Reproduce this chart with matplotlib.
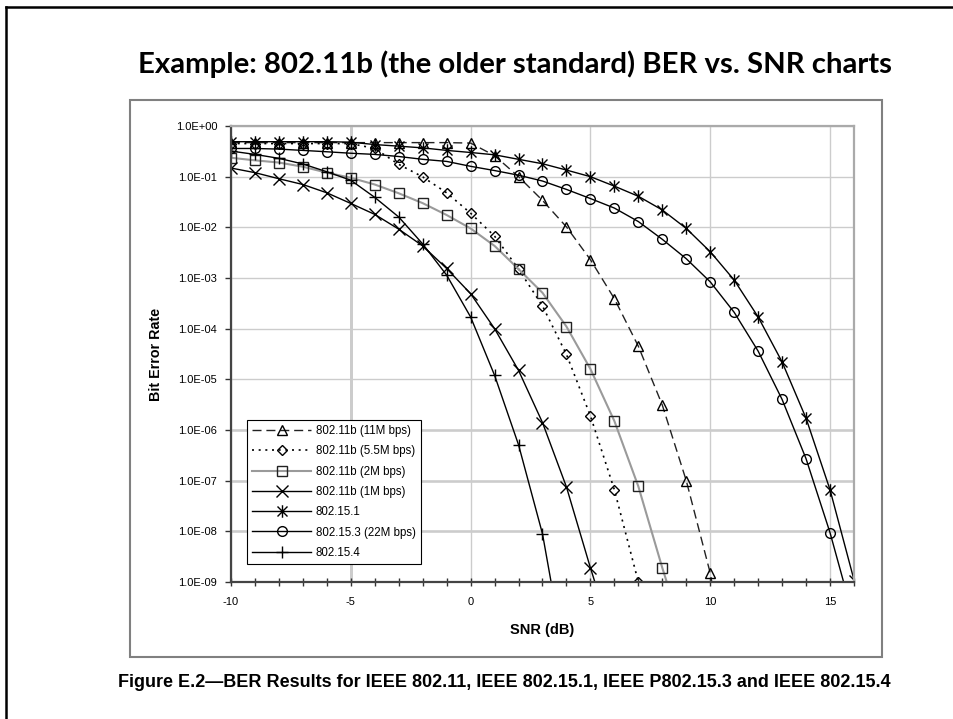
import numpy as np
import matplotlib
matplotlib.use("Agg")
import matplotlib.pyplot as plt
from matplotlib.path import Path
from matplotlib.patches import Rectangle
from matplotlib.lines import Line2D

# ---------------- data ----------------
snr_11m = list(range(-10, 12))
ber_11m = [0.47, 0.47, 0.47, 0.47, 0.47, 0.47, 0.47, 0.47, 0.47, 0.47, 0.46,
           0.26, 0.10, 0.034, 0.0102, 0.0023, 3.9e-4, 4.5e-5, 3.1e-6, 1.0e-7, 1.5e-9, 3e-12]

snr_55m = list(range(-10, 9))
ber_55m = [0.45, 0.45, 0.45, 0.45, 0.45, 0.45, 0.36, 0.175, 0.099, 0.048, 0.019,
           0.0067, 0.0015, 2.8e-4, 3.1e-5, 1.9e-6, 6.6e-8, 1.0e-9, 2e-11]

snr_2m = list(range(-10, 10))
ber_2m = [0.236, 0.21, 0.19, 0.157, 0.12, 0.095, 0.07, 0.047, 0.03, 0.0175, 0.0095,
          0.0043, 0.0015, 5.1e-4, 1.1e-4, 1.6e-5, 1.5e-6, 7.7e-8, 1.9e-9, 6e-11]

snr_1m = list(range(-10, 7))
ber_1m = [0.148, 0.12, 0.091, 0.07, 0.048, 0.0296, 0.018, 0.0092, 0.0043, 0.00154,
          4.9e-4, 1.0e-4, 1.5e-5, 1.4e-6, 7.5e-8, 1.9e-9, 6e-11]

snr_151 = list(range(-10, 17))
ber_151 = [0.49, 0.49, 0.49, 0.49, 0.49, 0.48, 0.43, 0.40, 0.37, 0.33, 0.30, 0.27,
           0.22, 0.18, 0.135, 0.10, 0.065, 0.041, 0.022, 0.0095, 0.0033, 9.1e-4,
           1.7e-4, 2.2e-5, 1.7e-6, 6.6e-8, 1.1e-9]

snr_153 = list(range(-10, 17))
ber_153 = [0.36, 0.36, 0.35, 0.33, 0.31, 0.29, 0.275, 0.25, 0.22, 0.20, 0.16, 0.132,
           0.107, 0.082, 0.056, 0.037, 0.024, 0.013, 0.0058, 0.0024, 8.4e-4, 2.1e-4,
           3.6e-5, 4.0e-6, 2.7e-7, 9.4e-9, 1.8e-10]

snr_154 = list(range(-10, 5))
ber_154 = [0.32, 0.275, 0.23, 0.178, 0.125, 0.085, 0.039, 0.016, 0.0047, 0.00114,
           1.7e-4, 1.2e-5, 5.1e-7, 8.9e-9, 2e-11]

labels = ["802.11b (11M bps)", "802.11b (5.5M bps)", "802.11b (2M bps)",
          "802.11b (1M bps)", "802.15.1", "802.15.3 (22M bps)", "802.15.4"]

y_ticks = [1e0, 1e-1, 1e-2, 1e-3, 1e-4, 1e-5, 1e-6, 1e-7, 1e-8, 1e-9]
y_ticklabels = ["1.0E+00", "1.0E-01", "1.0E-02", "1.0E-03", "1.0E-04",
                "1.0E-05", "1.0E-06", "1.0E-07", "1.0E-08", "1.0E-09"]
x_ticks = [-10, -5, 0, 5, 10, 15]

title = "Example: 802.11b (the older standard) BER vs. SNR charts"
caption = "Figure E.2\u2014BER Results for IEEE 802.11, IEEE 802.15.1, IEEE P802.15.3 and IEEE 802.15.4"

# ---------------- figure ----------------
W, H = 954, 719
fig = plt.figure(figsize=(W / 100, H / 100), dpi=100)
fig.patch.set_facecolor("white")

# slide border (left and top)
fig.add_artist(Line2D([6.5 / W, 6.5 / W], [0, 1 - 7 / H], color="black", lw=1.8,
                      transform=fig.transFigure))
fig.add_artist(Line2D([6.5 / W, 1], [1 - 7 / H, 1 - 7 / H], color="black", lw=1.8,
                      transform=fig.transFigure))

# chart frame
fig.add_artist(Rectangle((130 / W, 1 - 657 / H), (882 - 130) / W, (657 - 100) / H,
                         transform=fig.transFigure, fill=False,
                         edgecolor="#808080", lw=1.5))

fig.text(515 / W, 1 - 73 / H, title, ha="center", va="baseline",
         fontsize=21.2, fontweight="bold", family=["Lato", "DejaVu Sans"])
fig.text(504.5 / W, 1 - 687 / H, caption, ha="center", va="baseline",
         fontsize=13, fontweight="bold", family=["Liberation Sans"])

ax = fig.add_axes([231 / W, 1 - 582 / H, (854 - 231) / W, (582 - 126) / H])
ax.set_yscale("log")
ax.set_xlim(-10, 16)
ax.set_ylim(1e-9, 1e0)

ax.grid(True, which="major", color="#cccccc", lw=1.0, zorder=0)
ax.axvline(-5, color="black", lw=1.0, zorder=0.5)
for yv in [1e-6, 1e-7, 1e-8]:
    ax.axhline(yv, color="#3a3a3a", lw=1.0, zorder=0.5)

star_path = Path([(-1, -1), (1, 1), (-1, 1), (1, -1), (0, -1.25), (0, 1.25)],
                 [Path.MOVETO, Path.LINETO] * 3)

common = dict(markerfacecolor="none", markeredgecolor="black", markeredgewidth=1.0)
ax.plot(snr_11m, ber_11m, color="#222222", lw=1.0, dashes=(6.5, 3.5), marker="^",
        markersize=7, label=labels[0], **common)
ax.plot(snr_55m, ber_55m, color="black", lw=1.2, dashes=(1.2, 2.8), marker="D",
        markersize=5, label=labels[1], **common)
ax.plot(snr_2m, ber_2m, color="#9a9a9a", lw=1.5, marker="s",
        markersize=7, label=labels[2], markerfacecolor="none",
        markeredgecolor="#222222", markeredgewidth=1.0)
ax.plot(snr_1m, ber_1m, color="black", lw=1.0, marker="x",
        markersize=8, label=labels[3], **common)
ax.plot(snr_151, ber_151, color="black", lw=1.0, marker=star_path,
        markersize=9, label=labels[4], **common)
ax.plot(snr_153, ber_153, color="black", lw=1.0, marker="o",
        markersize=7, label=labels[5], **common)
ax.plot(snr_154, ber_154, color="black", lw=1.0, marker="+",
        markersize=9, label=labels[6], **common)

ax.set_yticks(y_ticks)
ax.set_yticklabels(y_ticklabels)
ax.yaxis.set_minor_locator(matplotlib.ticker.NullLocator())
ax.set_xticks(x_ticks)
ax.set_xticklabels([str(v) for v in x_ticks])
ax.set_xticks(range(-10, 17), minor=True)

for lab in ax.get_xticklabels() + ax.get_yticklabels():
    lab.set_fontfamily("Liberation Sans")
    lab.set_fontsize(8)
ax.tick_params(axis="x", which="both", direction="inout", length=6, width=1,
               color="#333333", pad=8)
ax.tick_params(axis="y", which="major", direction="out", length=4, width=1,
               color="#333333", pad=6)

for side in ["left", "bottom"]:
    ax.spines[side].set_color("#444444")
    ax.spines[side].set_linewidth(1.6)
for side in ["top", "right"]:
    ax.spines[side].set_color("#aaaaaa")
    ax.spines[side].set_linewidth(1.6)

ax.set_xlabel("SNR (dB)", fontsize=10.5, fontweight="bold", family="Liberation Sans")
ax.xaxis.set_label_coords(0.5, -(623 - 582) / (582 - 126))
ax.set_ylabel("Bit Error Rate", fontsize=10.3, fontweight="bold", family="Liberation Sans")
ax.yaxis.set_label_coords(-(231 - 163) / (854 - 231), 0.5)

leg = ax.legend(loc="lower left", bbox_to_anchor=(0.0257, 0.0395), borderaxespad=0,
                prop=dict(family="Liberation Sans", size=8.3), numpoints=1,
                handlelength=5.1, handletextpad=0.4, labelspacing=0.72,
                borderpad=0.45, fancybox=False, framealpha=1, edgecolor="black")
leg.get_frame().set_linewidth(0.8)

fig.savefig("out.png", dpi=100, facecolor="white")
